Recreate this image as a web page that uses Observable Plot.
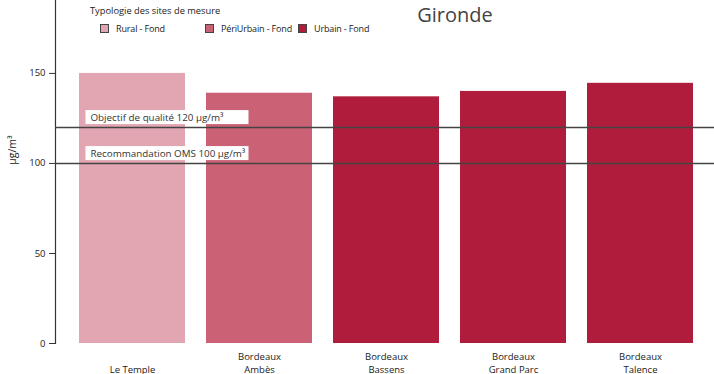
<!DOCTYPE html>
<html><head><meta charset="utf-8">
<script src="https://cdn.jsdelivr.net/npm/d3@7"></script>
<script src="https://cdn.jsdelivr.net/npm/@observablehq/plot@0.6"></script>
<style>
body{margin:0;background:#fff;font-family:"Open Sans",sans-serif;}
#wrap{position:relative;width:714px;height:374px;overflow:hidden;}
#title{position:absolute;left:0;width:714px;top:0;text-align:center;padding-left:196px;box-sizing:border-box;font-size:20px;color:#444;line-height:34px;top:-2px;}
#legend{position:absolute;left:90px;top:4px;width:400px;font-size:9.3px;color:#222;white-space:nowrap;}
#legend .items{display:flex;margin-top:5px;margin-left:10px;font-size:9px;letter-spacing:-0.15px;}
#legend .it{display:flex;align-items:center;flex-shrink:0;white-space:nowrap;}
#legend .sw{width:7px;height:7px;border:1px solid #444;margin-right:7px;flex-shrink:0;}
</style></head>
<body><div id="wrap"><div id="chart"></div><div id="title">Gironde</div><div id="legend"></div></div>
<script>
const sites = ["Le Temple", "Bordeaux\nAmbès", "Bordeaux\nBassens", "Bordeaux\nGrand Parc", "Bordeaux\nTalence"];
const values = [150, 139, 137, 140, 144.5];
const typologies = ["Rural - Fond", "PériUrbain - Fond", "Urbain - Fond", "Urbain - Fond", "Urbain - Fond"];
const typoNames = ["Rural - Fond", "PériUrbain - Fond", "Urbain - Fond"];
const typoColors = ["#e2a5b2", "#cb6175", "#b01c3c"];
const thresholds = [120, 100];
const thresholdLabels = ["Objectif de qualité 120 µg/m³", "Recommandation OMS 100 µg/m³"];
const yTicks = [0, 50, 100, 150];

const data = sites.map((s, i) => ({site: s, value: values[i], typo: typologies[i]}));
const lines = thresholds.map((t, i) => ({y: t, label: thresholdLabels[i]}));

const chart = Plot.plot({
  width: 714, height: 374,
  marginLeft: 55, marginRight: 0, marginTop: 0, marginBottom: 31,
  style: {fontFamily: "Open Sans, sans-serif", fontSize: "9.5px", color: "#222"},
  x: {domain: sites, range: [58, 714], padding: 0.165, label: null},
  y: {domain: [0, 190.5], label: null},
  color: {domain: typoNames, range: typoColors},
  marks: [
    Plot.barY(data, {x: "site", y: "value", fill: "typo"}),
    Plot.frame({anchor: "left", stroke: "#333", strokeWidth: 1.2}),
    Plot.axisY({ticks: yTicks, tickSize: 6, tickPadding: 4, label: null, stroke: "#333"}),
    Plot.axisX({tickSize: 0, lineAnchor: "bottom", lineHeight: 1.35, dy: 29, label: null, tickPadding: 0, fill: "#222"}),
    Plot.ruleY(lines, {y: "y", stroke: "#444", strokeWidth: 1.5}),
    Plot.text(lines, {y: "y", text: "label", frameAnchor: "left", textAnchor: "start", dx: 35, dy: -10, fill: "#333", fontSize: 9.8, className: "thr"})
  ]
});
document.getElementById("chart").append(chart);

// white boxes behind threshold labels
d3.select(chart).selectAll("g.thr text").each(function() {
  const bb = this.getBBox();
  d3.select(this.parentNode).insert("rect", () => this)
    .attr("x", bb.x - 5).attr("y", bb.y - 0.5)
    .attr("width", 163).attr("height", bb.height + 1)
    .attr("fill", "white").attr("transform", this.getAttribute("transform"));
});

// y axis title
d3.select(chart).append("text")
  .attr("transform", "translate(16,150) rotate(-90)")
  .attr("text-anchor", "middle").attr("font-size", "10.5px").attr("fill", "#222")
  .text("µg/m³");

const itemWidths = [105, 93, 100];
const lg = document.getElementById("legend");
lg.innerHTML = '<div>Typologie des sites de mesure</div><div class="items">' +
  typoNames.map((n, i) => `<div class="it" style="width:${itemWidths[i]}px"><span class="sw" style="background:${typoColors[i]}"></span>${n}</div>`).join("") +
  '</div>';
</script></body></html>
